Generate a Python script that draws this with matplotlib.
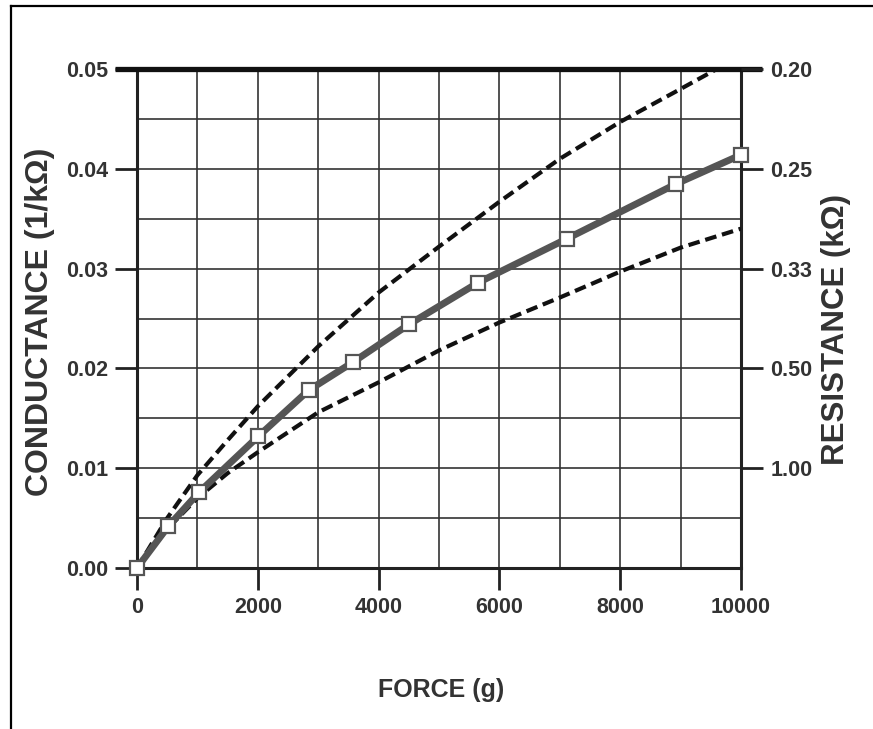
import matplotlib
matplotlib.use("Agg")
import matplotlib.pyplot as plt
from matplotlib.lines import Line2D

plt.rcParams['font.family'] = ['Liberation Sans', 'DejaVu Sans']

# Measured conductance vs applied force
force = [0, 520, 1030, 2010, 2840, 3570, 4500, 5650, 7120, 8930, 10000]
conductance = [0.0, 0.0042, 0.0076, 0.0132, 0.0178, 0.0206, 0.0244, 0.0286, 0.0330, 0.0385, 0.0414]

# Upper and lower tolerance bands
upper_force = [0, 500, 1000, 1500, 2000, 3000, 4000, 5000, 6000, 7000, 8000, 9000, 9600]
upper_cond = [0.0, 0.0050, 0.0093, 0.0128, 0.0162, 0.0222, 0.0276, 0.0322, 0.0367, 0.0410, 0.0447, 0.0480, 0.0500]
lower_force = [0, 500, 1000, 1500, 2000, 3000, 4000, 5000, 6000, 7000, 8000, 9000, 10000]
lower_cond = [0.0, 0.0039, 0.0070, 0.0095, 0.0116, 0.0156, 0.0186, 0.0218, 0.0246, 0.0271, 0.0297, 0.0321, 0.0340]

x_ticks = [0, 2000, 4000, 6000, 8000, 10000]
y_ticks = [0.00, 0.01, 0.02, 0.03, 0.04, 0.05]
y_tick_labels = ["0.00", "0.01", "0.02", "0.03", "0.04", "0.05"]
res_ticks = [0.01, 0.02, 0.03, 0.04, 0.05]
res_labels = ["1.00", "0.50", "0.33", "0.25", "0.20"]

W, H = 873, 729
fig = plt.figure(figsize=(W / 100, H / 100), dpi=100)
fig.patch.set_facecolor('white')

left, right, top, bottom = 137, 741, 69, 568
ax = fig.add_axes([left / W, 1 - bottom / H, (right - left) / W, (bottom - top) / H])

ax.set_xlim(0, 10000)
ax.set_ylim(0, 0.05)

grid_c = '#333333'
for gx in range(1000, 10000, 1000):
    ax.axvline(gx, color=grid_c, lw=1.2, zorder=1)
for gy in [0.005, 0.01, 0.015, 0.02, 0.025, 0.03, 0.035, 0.04, 0.045]:
    ax.axhline(gy, color=grid_c, lw=1.2, zorder=1)

dash_style = dict(color='#111111', lw=3.0, dashes=(2.8, 1.4), zorder=3, solid_capstyle='butt')
ax.plot(upper_force, upper_cond, **dash_style)
ax.plot(lower_force, lower_cond, **dash_style)

ax.plot(force, conductance, color='#555555', lw=5, zorder=4,
        solid_joinstyle='round')
ax.plot(force, conductance, ls='none', marker='s', ms=10, mfc='white',
        mec='#555555', mew=1.6, zorder=5, clip_on=False)

for side in ['left', 'bottom', 'right']:
    ax.spines[side].set_linewidth(2.2)
    ax.spines[side].set_color('#222222')
ax.spines['top'].set_visible(False)

# Heavy top border, reaching out over both tick sides
ax.add_line(Line2D([-0.037, 1.035], [1, 1], transform=ax.transAxes,
                   color='#111111', lw=3.8, clip_on=False, zorder=6,
                   solid_capstyle='butt'))

tick_font = dict(fontsize=15.5, fontweight='bold', color='#333333')
ax.set_xticks(x_ticks)
ax.set_xticklabels([str(v) for v in x_ticks], **tick_font)
ax.set_yticks(y_ticks)
ax.set_yticklabels(y_tick_labels, **tick_font)
ax.tick_params(axis='both', direction='out', length=16, width=2.0,
               color='#222222', pad=5)

ax2 = ax.twinx()
ax2.set_ylim(0, 0.05)
ax2.set_yticks(res_ticks)
ax2.set_yticklabels(res_labels, **tick_font)
ax2.tick_params(axis='y', direction='out', length=16, width=2.0,
                color='#222222', pad=5)
for side in ['left', 'bottom', 'right', 'top']:
    ax2.spines[side].set_visible(False)

label_font = dict(fontweight='bold', color='#333333')
fig.text(40 / W, 1 - 322 / H, "CONDUCTANCE (1/kΩ)", rotation=90, fontsize=23,
         ha='center', va='center', **label_font)
fig.text(836 / W, 1 - 330 / H, "RESISTANCE (kΩ)", rotation=90, fontsize=22.5,
         ha='center', va='center', **label_font)
fig.text(441 / W, 1 - 690 / H, "FORCE (g)", fontsize=18,
         ha='center', va='center', **label_font)

# Outer frame
fig.add_artist(Line2D([11 / W, 1.0], [1 - 6 / H, 1 - 6 / H], color='black', lw=1.6))
fig.add_artist(Line2D([11 / W, 11 / W], [0, 1 - 6 / H], color='black', lw=1.6))

fig.savefig('out.png', dpi=100, facecolor='white')
